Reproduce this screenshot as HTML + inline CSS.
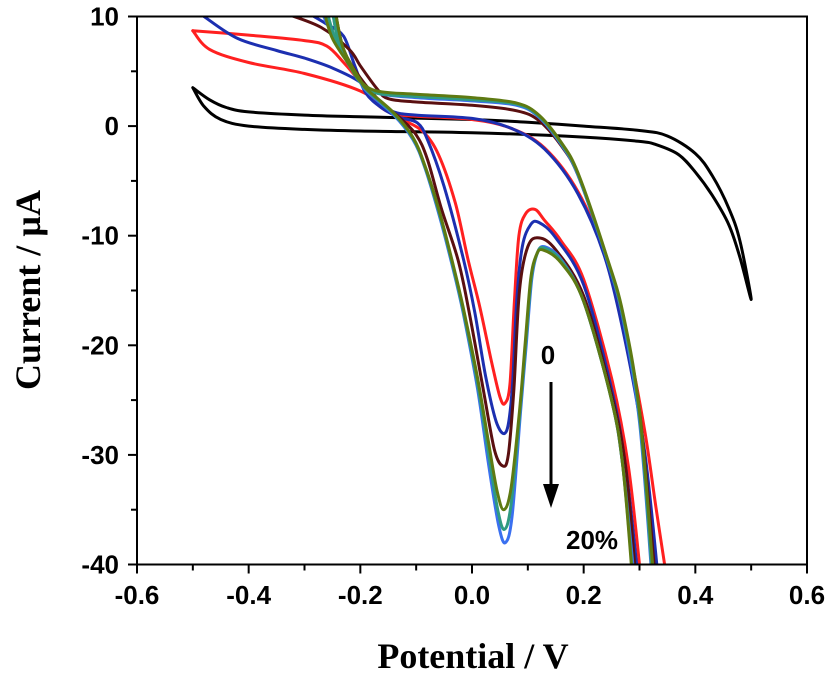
<!DOCTYPE html>
<html><head><meta charset="utf-8"><style>
html,body{margin:0;padding:0;background:#fff;}
svg{display:block;}
.tk{font-family:"Liberation Sans",Arial,sans-serif;font-weight:bold;font-size:26px;fill:#000;}
.tt{font-family:"Liberation Serif","Times New Roman",serif;font-weight:bold;font-size:36px;fill:#000;}
</style></head><body>
<svg id="chart" width="832" height="676" viewBox="0 0 832 676" xmlns="http://www.w3.org/2000/svg">
<defs><clipPath id="clip"><rect x="137" y="16" width="671" height="549"/></clipPath></defs>
<g id="curves" clip-path="url(#clip)"></g>
<rect x="137" y="16.5" width="670" height="548" fill="none" stroke="#000" stroke-width="2"/>
<g id="axes"></g>
<text class="tt" x="473" y="668" text-anchor="middle">Potential / V</text>
<text class="tt" transform="translate(40,290) rotate(-90)" text-anchor="middle">Current / µA</text>
<text class="tk" x="548" y="364" text-anchor="middle">0</text>
<line x1="551" y1="382" x2="551" y2="490" stroke="#000" stroke-width="3"/>
<polygon points="543,484 559,484 551,508" fill="#000"/>
<text class="tk" x="566" y="549">20%</text>
</svg>
<script>
const xTicks = [-0.6,-0.4,-0.2,0.0,0.2,0.4,0.6];
const xTickLabels = ["-0.6","-0.4","-0.2","0.0","0.2","0.4","0.6"];
const yTicks = [10,0,-10,-20,-30,-40];
const yTickLabels = ["10","0","-10","-20","-30","-40"];
const seriesNames = ["black","red","navy","brown","olive","teal","lightblue"];
const seriesColors = ["#000000","#ff2020","#1c2fb0","#5a0f10","#5e7a12","#2f9a80","#3a70f0"];
const black = [[-0.5,3.5],[-0.47,2.4],[-0.44,1.7],[-0.4,1.3],[-0.3,1.0],[-0.2,0.85],[0,0.6],[0.1,0.35],[0.2,0.0],[0.3,-0.4],[0.35,-0.9],[0.4,-2.5],[0.43,-4.5],[0.46,-7.5],[0.48,-10.5],[0.5,-15.8],[0.48,-12],[0.46,-9],[0.43,-6.3],[0.4,-4.2],[0.37,-2.6],[0.33,-1.7],[0.3,-1.4],[0.2,-1.0],[0,-0.6],[-0.2,-0.45],[-0.3,-0.3],[-0.4,0.0],[-0.45,0.6],[-0.48,1.8],[-0.5,3.5]];
const redUpper = [[-0.5,8.7],[-0.4,8.3],[-0.3,7.8],[-0.26,7.3],[-0.23,5.8],[-0.2,4.0],[-0.17,2.0],[-0.14,1.1],[-0.1,0.9],[0,0.6],[0.07,-0.2],[0.13,-2],[0.19,-6],[0.24,-12],[0.28,-20],[0.31,-28],[0.33,-35],[0.348,-41]];
const redLower = [[-0.5,8.7],[-0.47,7.0],[-0.4,5.8],[-0.3,4.8],[-0.2,3.2],[-0.147,1.4],[-0.12,0.5],[-0.088,-0.5],[-0.06,-2.6],[-0.03,-7],[-0.007,-12.2],[0.014,-16.5],[0.035,-21.5],[0.05,-24.7],[0.059,-25.3],[0.068,-23.5],[0.076,-16],[0.084,-10],[0.096,-8.0],[0.113,-7.6],[0.13,-8.6],[0.16,-10.5],[0.2,-14],[0.25,-23],[0.28,-31],[0.302,-41]];
const navyUpper = [[-0.48,10],[-0.42,8],[-0.35,6.9],[-0.3,6.2],[-0.25,5.3],[-0.2,4.0],[-0.17,2.3],[-0.14,1.3],[-0.1,1.0],[0,0.7],[0.07,-0.2],[0.13,-2.1],[0.19,-6.2],[0.24,-12.3],[0.28,-21],[0.31,-30],[0.333,-41]];
const navyLower = [[-0.3,10.5],[-0.26,9.3],[-0.23,8.2],[-0.21,5.5],[-0.19,3.0],[-0.16,1.6],[-0.13,0.8],[-0.098,0.3],[-0.08,-1.2],[-0.05,-5.5],[-0.015,-12.2],[0.005,-17],[0.025,-23],[0.045,-27.2],[0.062,-27.8],[0.072,-24],[0.08,-16],[0.09,-11],[0.105,-9.0],[0.12,-8.8],[0.15,-10.2],[0.2,-14.5],[0.25,-24],[0.275,-31],[0.297,-41]];
const brownUpper = [[-0.33,10.2],[-0.27,9.0],[-0.22,7.0],[-0.2,5.5],[-0.17,3.4],[-0.15,2.5],[-0.1,2.2],[0,1.9],[0.08,1.4],[0.12,0.5],[0.16,-1.8],[0.19,-4.5],[0.24,-11.8],[0.27,-17.5],[0.3,-26],[0.328,-41]];
const brownLower = [[-0.245,10.5],[-0.23,7],[-0.2,4.4],[-0.16,2.0],[-0.13,0.8],[-0.1,-0.8],[-0.08,-3],[-0.055,-7.5],[-0.025,-12.2],[-0.005,-17],[0.02,-24],[0.04,-29.5],[0.055,-31],[0.065,-30],[0.075,-24],[0.085,-15],[0.1,-11],[0.12,-10.2],[0.15,-11.3],[0.2,-15.5],[0.25,-24.5],[0.275,-31],[0.293,-41]];
const oliveUpper = [[-0.265,10.5],[-0.25,8],[-0.22,5.6],[-0.2,4.1],[-0.17,3.2],[-0.1,2.9],[0,2.6],[0.08,2.1],[0.12,1.0],[0.16,-1.5],[0.19,-4.3],[0.24,-11.7],[0.27,-17],[0.3,-26],[0.325,-41]];
const oliveLower = [[-0.245,10.5],[-0.23,7],[-0.2,4.2],[-0.187,3.3],[-0.14,1.2],[-0.106,-1.0],[-0.085,-3.5],[-0.06,-7.5],[-0.036,-12.2],[-0.016,-16.5],[0.01,-23],[0.03,-29],[0.045,-33.3],[0.057,-35],[0.07,-33],[0.085,-26],[0.095,-20],[0.105,-14],[0.115,-11.8],[0.127,-11.3],[0.16,-12.5],[0.2,-16],[0.25,-25],[0.27,-31],[0.287,-41]];
const tealUpper = [[-0.26,10.5],[-0.245,8],[-0.22,5.6],[-0.2,4.0],[-0.17,3.0],[-0.1,2.7],[0,2.4],[0.08,2.0],[0.12,0.9],[0.16,-1.6],[0.19,-4.4],[0.24,-11.8],[0.27,-17.3],[0.3,-26.5],[0.323,-41]];
const tealLower = [[-0.25,10.5],[-0.235,7],[-0.2,4.1],[-0.187,3.2],[-0.14,1.1],[-0.106,-1.1],[-0.085,-3.6],[-0.06,-7.7],[-0.036,-12.4],[-0.016,-16.8],[0.01,-23.5],[0.03,-30],[0.046,-35],[0.058,-36.8],[0.07,-34.5],[0.086,-26],[0.096,-20],[0.106,-14],[0.116,-11.7],[0.128,-11.1],[0.16,-12.3],[0.2,-16],[0.25,-25],[0.27,-31],[0.288,-41]];
const lightblueUpper = [[-0.27,10.5],[-0.25,8.3],[-0.22,5.6],[-0.2,4.0],[-0.17,3.0],[-0.1,2.6],[0,2.3],[0.08,1.9],[0.12,0.8],[0.16,-1.7],[0.19,-4.5],[0.24,-11.9],[0.27,-17.5],[0.3,-27],[0.322,-41]];
const lightblueLower = [[-0.25,10.5],[-0.235,7],[-0.2,4.0],[-0.187,3.1],[-0.14,1.0],[-0.106,-1.2],[-0.085,-3.7],[-0.06,-7.9],[-0.036,-12.6],[-0.016,-17],[0.01,-24],[0.03,-31],[0.048,-36.5],[0.06,-38],[0.072,-35.5],[0.087,-26],[0.097,-20],[0.107,-14],[0.117,-11.6],[0.13,-11.0],[0.16,-12.2],[0.2,-16],[0.25,-25],[0.27,-31],[0.29,-41]];

const X0=137, X1=807, Y0=564.5, Y1=16.5;
function xs(v){return X0+(v+0.6)/1.2*(X1-X0);}
function ys(v){return Y0-(v+40)/50*(Y0-Y1);}
function smoothPath(arr){
  const p=arr.map(function(d){return [xs(d[0]),ys(d[1])];});
  let s='M'+p[0][0].toFixed(1)+','+p[0][1].toFixed(1);
  for(let i=0;i<p.length-1;i++){
    const p0=p[Math.max(0,i-1)],p1=p[i],p2=p[i+1],p3=p[Math.min(p.length-1,i+2)];
    const c1x=p1[0]+(p2[0]-p0[0])/6,c1y=p1[1]+(p2[1]-p0[1])/6;
    const c2x=p2[0]-(p3[0]-p1[0])/6,c2y=p2[1]-(p3[1]-p1[1])/6;
    s+=' C'+c1x.toFixed(1)+','+c1y.toFixed(1)+' '+c2x.toFixed(1)+','+c2y.toFixed(1)+' '+p2[0].toFixed(1)+','+p2[1].toFixed(1);
  }
  return s;
}
const NS="http://www.w3.org/2000/svg";
const curves=document.getElementById('curves');
const axes=document.getElementById('axes');
const seriesData=[[black],[redUpper,redLower],[navyUpper,navyLower],[brownUpper,brownLower],[oliveUpper,oliveLower],[tealUpper,tealLower],[lightblueUpper,lightblueLower]];
const drawOrder=[0,1,2,3,6,5,4];
drawOrder.forEach(function(si){
  seriesData[si].forEach(function(arr,bi){
    const p=document.createElementNS(NS,'path');
    p.setAttribute('d',smoothPath(arr));
    p.setAttribute('fill','none');
    p.setAttribute('stroke',seriesColors[si]);
    p.setAttribute('stroke-width','3');
    p.setAttribute('stroke-linejoin','round');
    p.setAttribute('stroke-linecap','round');
    
    
    curves.appendChild(p);
  });
});
function ln(x1,y1,x2,y2){const l=document.createElementNS(NS,'line');l.setAttribute('x1',x1);l.setAttribute('y1',y1);l.setAttribute('x2',x2);l.setAttribute('y2',y2);l.setAttribute('stroke','#000');l.setAttribute('stroke-width','2');axes.appendChild(l);return l;}
xTicks.forEach(function(v,i){
  const t=ln(xs(v),Y0,xs(v),Y0+9);
  
  
  if(i<xTicks.length-1){const m=ln(xs(v+0.1),Y0,xs(v+0.1),Y0+6);
    
    }
  const tx=document.createElementNS(NS,'text');
  tx.setAttribute('class','tk');tx.setAttribute('x',xs(v));tx.setAttribute('y',604);tx.setAttribute('text-anchor','middle');
  tx.textContent=xTickLabels[i];
  
  
  axes.appendChild(tx);
});
yTicks.forEach(function(v,i){
  const t=ln(X0-9,ys(v),X0,ys(v));
  
  
  if(i<yTicks.length-1){const m=ln(X0-6,ys(v-5),X0,ys(v-5));
    
    }
  const tx=document.createElementNS(NS,'text');
  tx.setAttribute('class','tk');tx.setAttribute('x',119);tx.setAttribute('y',ys(v)+9);tx.setAttribute('text-anchor','end');
  tx.textContent=yTickLabels[i];
  
  
  axes.appendChild(tx);
});
</script>
</body></html>
